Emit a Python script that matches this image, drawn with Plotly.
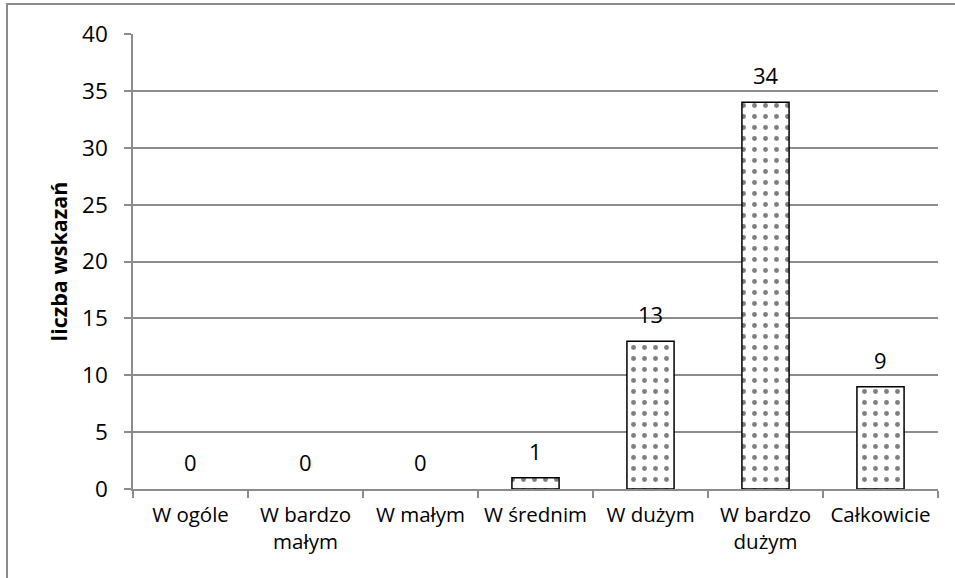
import plotly.graph_objects as go

categories = ["W ogóle", "W bardzo<br>małym", "W małym", "W średnim", "W dużym", "W bardzo<br>dużym", "Całkowicie"]
values = [0, 0, 0, 1, 13, 34, 9]
y_ticks = [0, 5, 10, 15, 20, 25, 30, 35, 40]

W, H = 955, 578
L, R, T, B = 133, 938, 34, 489
FONT = "Open Sans, Lato, sans-serif"

def px_x(p):
    return (p - L) / (R - L)

def px_y(p):
    return (B - p) / (B - T)

fig = go.Figure()
fig.add_trace(go.Bar(
    x=categories,
    y=values,
    width=0.41,
    marker=dict(
        color="white",
        line=dict(color="black", width=[1.5 if v > 0 else 0 for v in values]),
        pattern=dict(shape=".", fgcolor="black", bgcolor="white", size=11, solidity=0.16),
    ),
    hoverinfo="x+y",
))

annotations = [
    dict(x=c, y=v, xref="x", yref="y", text=str(v), showarrow=False,
         yanchor="bottom", yshift=10, font=dict(family=FONT, size=22, color="black"))
    for c, v in zip(categories, values)
]

fig.update_layout(
    width=W, height=H,
    margin=dict(l=L, r=W - R, t=T, b=H - B),
    paper_bgcolor="white",
    plot_bgcolor="white",
    showlegend=False,
    font=dict(family=FONT, color="black"),
    xaxis=dict(
        type="category",
        showline=True, linecolor="#8c8c8c", linewidth=1.5,
        ticks="outside", tickson="boundaries", ticklen=7, tickcolor="#8c8c8c", tickwidth=1.5,
        tickfont=dict(size=20.5),
        ticklabelstandoff=7,
        showgrid=False,
    ),
    yaxis=dict(
        range=[0, 40],
        tickvals=y_ticks,
        showline=True, linecolor="#8c8c8c", linewidth=1.5,
        ticks="outside", ticklen=7, tickcolor="#8c8c8c", tickwidth=1.5,
        showgrid=True, gridcolor="#8c8c8c", gridwidth=1.5,
        tickfont=dict(size=22.5),
        ticklabelstandoff=12,
        title=dict(text="<b>liczba wskazań</b>", font=dict(size=21.5), standoff=8),
        zeroline=False,
    ),
    annotations=annotations,
    shapes=[dict(
        type="rect", xref="paper", yref="paper",
        x0=px_x(7), x1=px_x(962), y0=px_y(585), y1=px_y(4),
        line=dict(color="#8c8c8c", width=2), fillcolor="rgba(0,0,0,0)", layer="below",
    )],
)

fig.write_html("out.html", config={"displayModeBar": False},
               post_script="document.body.style.margin='0px';document.body.style.overflow='hidden';")
